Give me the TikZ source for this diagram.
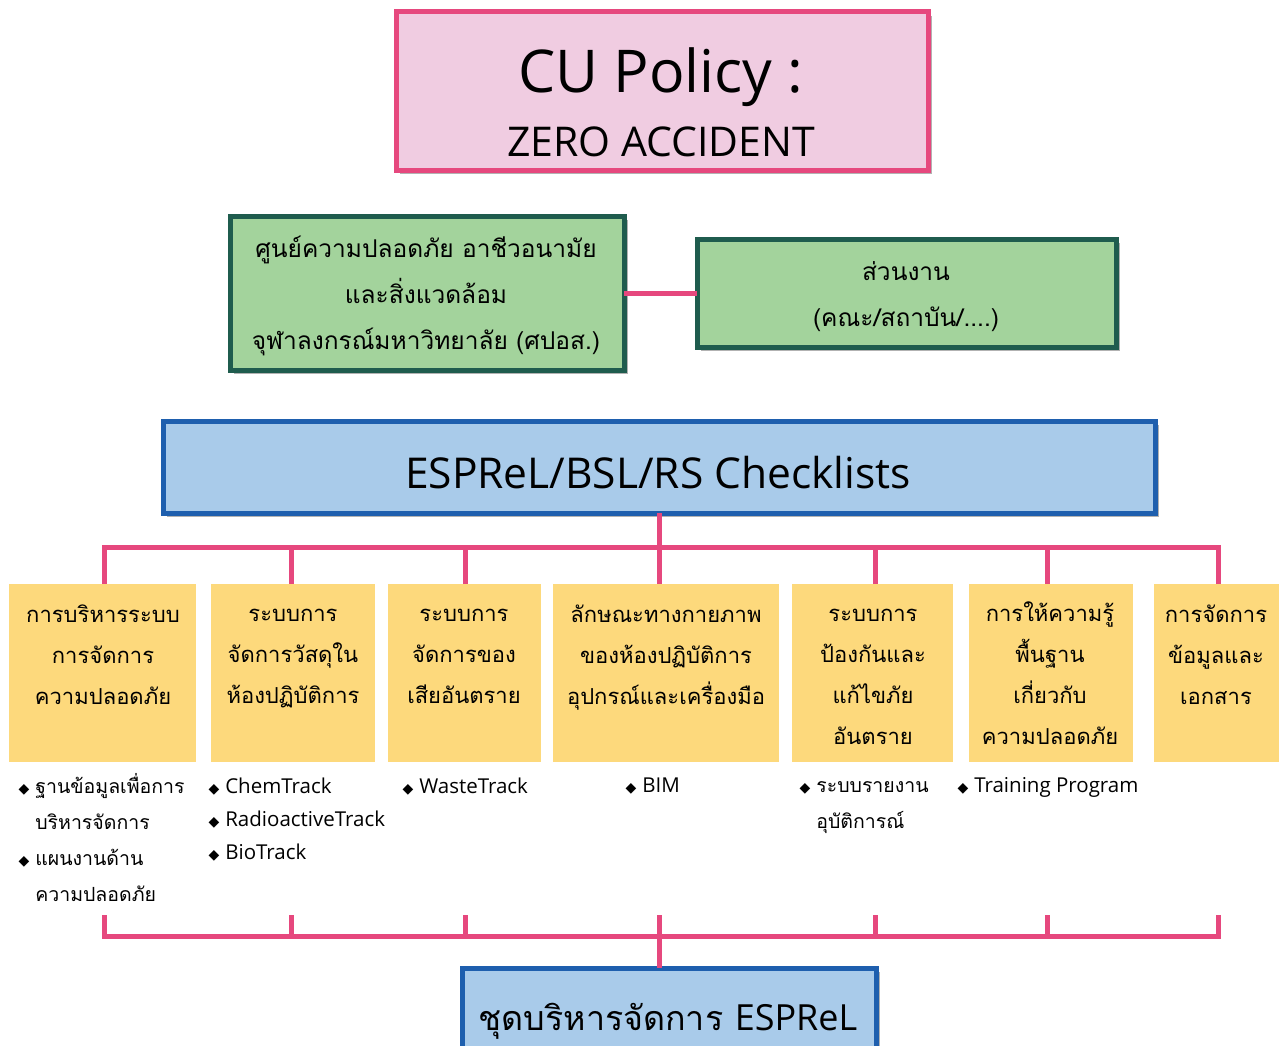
\documentclass[tikz,border=0pt]{standalone}
\usepackage{fontspec}
\setmainfont[Script=Thai]{Loma}
\newfontfamily\lat{Open Sans}
\newfontfamily\symfont{DejaVu Sans}
\usetikzlibrary{shadows,calc}
\definecolor{pinkline}{HTML}{E6487E}
\definecolor{pinkfill}{HTML}{F0CCE1}
\definecolor{greenfill}{HTML}{A3D39C}
\definecolor{greenline}{HTML}{1F5C4E}
\definecolor{bluefill}{HTML}{A9CBEA}
\definecolor{blueline}{HTML}{1E5FAE}
\definecolor{yel}{HTML}{FDD97C}
\newcommand\dm{{\symfont\fontsize{14}{14}\selectfont ◆}\hspace{6pt}}
\newcommand\dmsp{\phantom{\dm}}
\begin{document}
\begin{tikzpicture}[x=1pt,y=-1pt,
  box/.style={inner sep=0pt, outer sep=0pt, anchor=north west, line width=5pt,
    drop shadow={shadow xshift=4pt,shadow yshift=-4pt,fill=black,opacity=.3}},
  pinkbox/.style={box, draw=pinkline, fill=pinkfill},
  greenbox/.style={box, draw=greenline, fill=greenfill},
  bluebox/.style={box, draw=blueline, fill=bluefill},
  ybox/.style={inner sep=0pt, outer sep=0pt, anchor=north west, fill=yel, minimum height=178pt},
  ytext/.style={align=center, font=\fontsize{22}{41}\selectfont},
  gtext/.style={align=center, font=\fontsize{24.5}{46}\selectfont},
  btext/.style={align=left, anchor=north west, font=\fontsize{19.5}{36}\selectfont},
  ltext/.style={align=left, anchor=north west, font=\lat\fontsize{20.5}{33}\selectfont},
  link/.style={draw=pinkline, line width=5pt}]
\useasboundingbox (0,0) rectangle (1279,1046);
\clip (0,0) rectangle (1279,1046);

% top
\node[pinkbox, minimum width=532pt, minimum height=158pt] (top) at (396,12) {};
\node[anchor=base, font=\lat\fontsize{59}{59}\selectfont] (topA) at (661,93) {CU Policy :};
\node[anchor=base, font=\lat\fontsize{41}{41}\selectfont] (topB) at (661,157) {ZERO ACCIDENT};

% green boxes
\node[greenbox, minimum width=394pt, minimum height=154pt] (cen) at (230,216) {};
\node[gtext] (cenT) at (426,296) {ศูนย์ความปลอดภัย อาชีวอนามัย\\และสิ่งแวดล้อม\\จุฬาลงกรณ์มหาวิทยาลัย (ศปอส.)};
\node[greenbox, minimum width=419pt, minimum height=108pt] (unit) at (697,239) {};
\node[gtext] (unitT) at (906,297) {ส่วนงาน\\(คณะ/สถาบัน/....)};

% checklist
\node[bluebox, minimum width=992pt, minimum height=92pt] (chk) at (163,421) {};
\node[anchor=base, font=\lat\fontsize{42.5}{42.5}\selectfont] (chkT) at (658,488) {ESPReL/BSL/RS Checklists};

% links top
\draw[link] (cen.east) -- (unit.west);
\draw[link] ($(cen.south)+(8,0)$) -- ($(cen.south)+(8,0)$ |- chk.north);
\draw[link] ($(unit.south)+(14,0)$) -- ($(unit.south)+(14,0)$ |- chk.north);

% yellow boxes
\node[ybox, minimum width=187pt] (y1) at (9,584) {};
\node[ybox, minimum width=164pt] (y2) at (211,584) {};
\node[ybox, minimum width=153pt] (y3) at (388,584) {};
\node[ybox, minimum width=226pt] (y4) at (553,584) {};
\node[ybox, minimum width=161pt] (y5) at (792,584) {};
\node[ybox, minimum width=164pt] (y6) at (969,584) {};
\node[ybox, minimum width=140pt] (y7) at (1154,584) {};

\node[ytext] (y1T) at (103,655) {การบริหารระบบ\\การจัดการ\\ความปลอดภัย};
\node[ytext] (y2T) at (293,659) {ระบบการ\\จัดการวัสดุใน\\ห้องปฏิบัติการ};
\node[ytext] (y3T) at (464,656) {ระบบการ\\จัดการของ\\เสียอันตราย};
\node[ytext] (y4T) at (666,658) {ลักษณะทางกายภาพ\\ของห้องปฏิบัติการ\\อุปกรณ์และเครื่องมือ};
\node[ytext] (y5T) at (873,677) {ระบบการ\\ป้องกันและ\\แก้ไขภัย\\อันตราย};
\node[ytext] (y6T) at (1050,673) {การให้ความรู้\\พื้นฐาน\\เกี่ยวกับ\\ความปลอดภัย};
\node[ytext] (y7T) at (1216,655) {การจัดการ\\ข้อมูลและ\\เอกสาร};

% bus to yellow boxes
\coordinate (busL) at (104,547);
\coordinate (busR) at (1218,547);
\draw[link] (chk.south) -- (chk.south |- busL);
\draw[link] (busL |- y1.north) -- (busL) -- (busR) -- (busR |- y7.north);
\foreach \x in {291,465,875,1047}
  \draw[link] (\x,547) -- (\x,584);
\draw[link] (chk.south |- busL) -- (chk.south |- y4.north);

% bullets
\node[btext] (b1) at (15,770) {\dm ฐานข้อมูลเพื่อการ\\\dmsp บริหารจัดการ\\\dm แผนงานด้าน\\\dmsp ความปลอดภัย};
\node[ltext] (b2) at (205,774) {\dm ChemTrack\\\dm RadioactiveTrack\\\dm BioTrack};
\node[ltext] (b3) at (399,774) {\dm WasteTrack};
\node[ltext] (b4) at (622,774) {\dm BIM};
\node[btext] (b5) at (796,778) {\dm ระบบรายงาน\\\dmsp อุบัติการณ์};
\node[ltext] (b6) at (954,774) {\dm Training Program};

% bottom bus
\coordinate (lbL) at (104,936);
\coordinate (lbR) at (1218,936);
\draw[link] (104,915) -- (lbL) -- (lbR) -- (1218,915);
\foreach \x in {291,465,875,1047}
  \draw[link] (\x,915) -- (\x,936);

% bottom box
\node[bluebox, minimum width=414pt, minimum height=100pt] (bot) at (462,968) {};
\node[anchor=base] (botT) at (668,1030) {\fontsize{34}{34}\selectfont ชุดบริหารจัดการ {\lat\fontsize{36}{36}\selectfont ESPReL}};
\draw[link] (chk.south |- 0,915) -- (chk.south |- lbL) -- (chk.south |- bot.north);
\end{tikzpicture}
\end{document}
